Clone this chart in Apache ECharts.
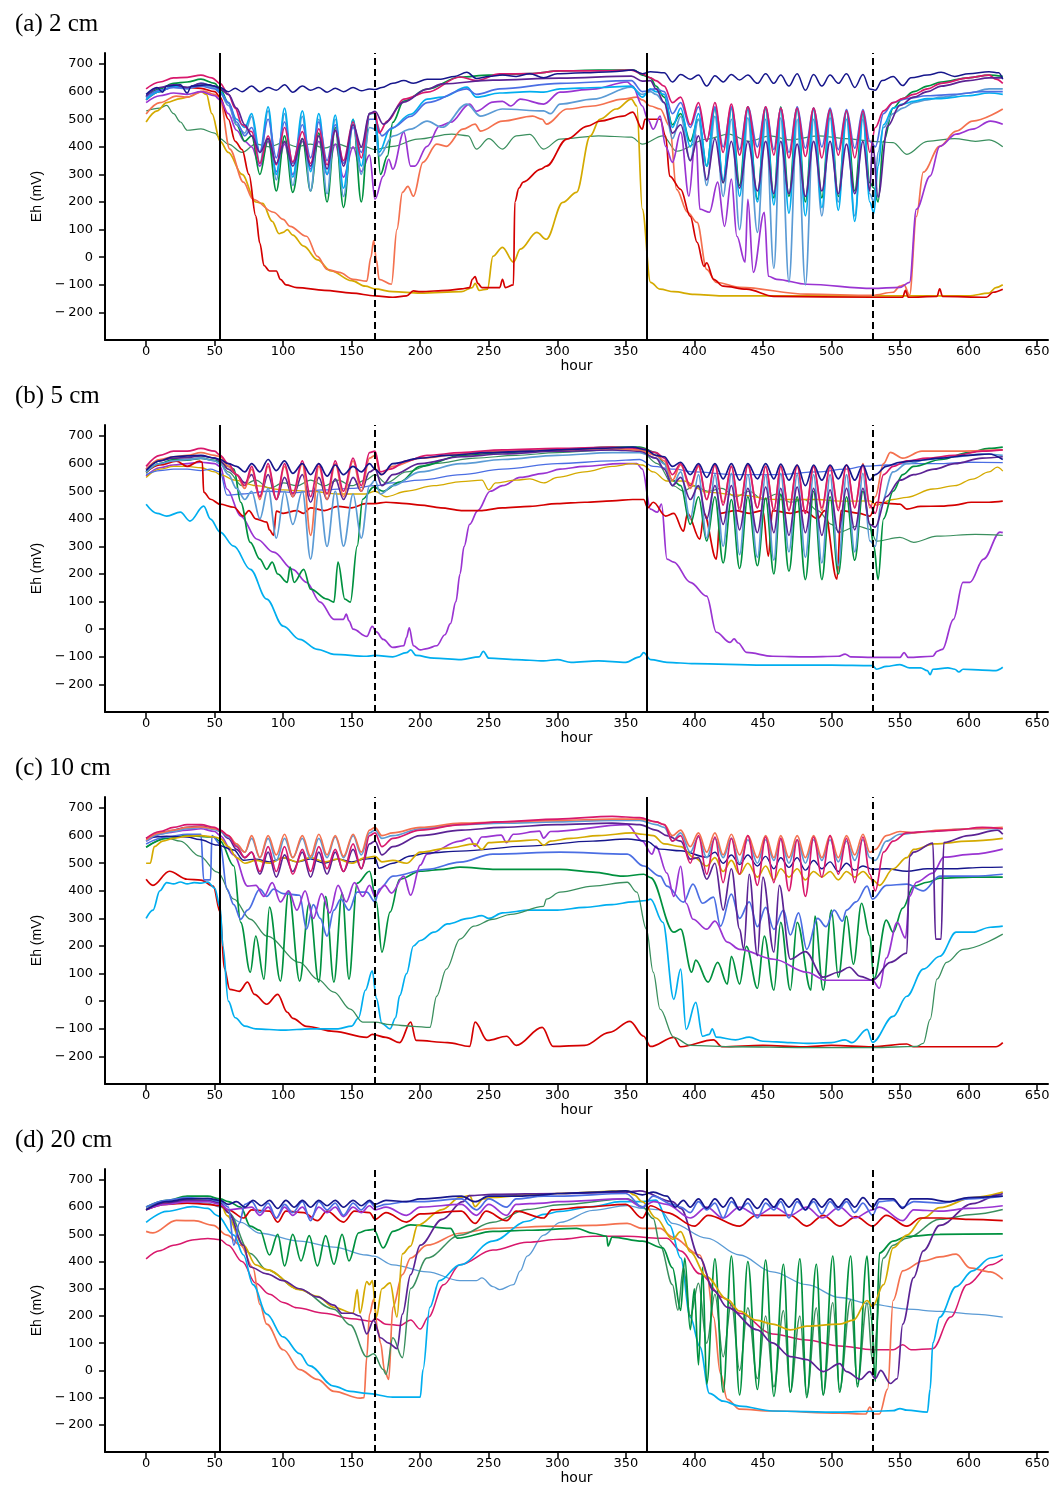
<!DOCTYPE html>
<html><head><meta charset="utf-8">
<script src="https://cdn.jsdelivr.net/npm/echarts@6/dist/echarts.min.js"></script>
<style>html,body{margin:0;padding:0;background:#fff}#c{width:1056px;height:1486px}</style>
</head><body><div id="c"></div>
<script>
// ---------- shared tidal timing (hours) ----------
const TIDE1 = [77,83,89,95,101,107,114,120,126,132,138,144,151,157,163];
const TIDE2 = [378,384,390,397,403,409,415,421,427,433,439,446,452,458,463,469,475,481,487,493,499,505,511,517,523,528];
const VLINES_SOLID = [54, 365];
const VLINES_DASH = [167, 530];
const X_TICKS = [0,50,100,150,200,250,300,350,400,450,500,550,600,650];
const Y_TICKS = [-200,-100,0,100,200,300,400,500,600,700];
const TITLES = ['(a) 2 cm','(b) 5 cm','(c) 10 cm','(d) 20 cm'];

// ---------- panel (a) 2 cm ----------
const a_navy_pre = [0,590, 8,615, 12,598, 15,620, 25,625, 30,595, 33,620, 45,625, 54,615, 60,600, 65,612, 70,600];
const a_navy_o1 = [620,600,615,605,625,598,620,605,615,598,612,600,615,603,610];
const a_navy_mid = [167,608, 172,615, 180,630, 188,640, 195,630, 205,645, 215,645, 225,655, 234,670, 241,648, 250,655, 260,660, 270,655, 280,665, 290,650, 300,665, 320,668, 340,672, 355,678, 362,665, 368,672];
const a_navy_o2 = [668,635,662,645,660,620,658,635,662,642,660,630,665,630,660,620,665,605,662,620,660,630,665,615,662,610];
const a_navy_post = [532,605, 537,640, 545,655, 552,622, 558,650, 570,660, 580,670, 590,655, 600,665, 615,672, 622,668, 625,645];

const a_mag_pre = [0,610, 10,635, 20,650, 30,652, 40,660, 48,650, 54,630, 60,590, 65,540, 70,480];
const a_mag_o1 = [455,340,440,335,470,345,455,340,465,335,460,350,490,360,520];
const a_mag_mid = [167,525, 170,450, 176,493, 188,573, 205,598, 229,653, 241,640, 258,664, 280,665, 302,675, 330,675, 354,678, 362,664, 368,650, 372,640];
const a_mag_o2 = [620,560,580,480,560,420,560,380,555,370,545,360,545,370,540,360,540,365,540,360,535,370,530,360,530,380];
const a_mag_post = [532,470, 538,530, 545,560, 552,575, 560,590, 570,610, 580,630, 600,650, 615,660, 620,645, 625,630];

const a_green_pre = [0,580, 10,610, 20,630, 30,635, 40,645, 50,630, 54,610, 60,560, 66,480, 72,420];
const a_green_o1 = [440,300,430,240,440,235,430,240,450,200,470,180,500,200,520];
const a_green_mid = [167,525, 171,300, 176,366, 180,489, 188,566, 205,609, 229,653, 250,660, 280,665, 302,675, 330,678, 356,678, 362,660, 368,650, 372,620];
const a_green_o2 = [580,480,520,420,500,330,540,270,540,260,545,210,540,215,545,220,540,200,540,215,535,220,530,240,520,270];
const a_green_post = [531,250, 534,200, 538,420, 545,540, 552,575, 560,600, 570,620, 580,635, 600,650, 615,660, 625,655];

const a_sky_pre = [0,570, 10,600, 20,620, 30,615, 40,630, 50,620, 54,600, 60,560, 66,500, 72,470];
const a_sky_o1 = [520,380,545,300,540,290,530,310,520,300,515,250,500,330,520];
const a_sky_mid = [167,522, 170,380, 178,464, 193,518, 205,573, 216,580, 234,616, 241,580, 258,595, 280,600, 290,598, 302,610, 330,615, 354,620, 362,580, 368,610, 372,600];
const a_sky_o2 = [590,470,540,400,520,330,540,280,540,220,535,200,540,190,535,160,540,150,535,180,530,170,530,130,525,200];
const a_sky_post = [531,160, 534,330, 538,480, 545,540, 552,555, 560,565, 570,575, 580,575, 600,585, 615,595, 625,590];

const a_steel_pre = [0,575, 10,605, 20,615, 30,610, 40,625, 50,615, 54,595, 60,550, 66,480, 72,450];
const a_steel_o1 = [510,340,530,280,520,260,510,240,500,230,500,220,480,300,470];
const a_steel_mid = [167,464, 170,366, 180,439, 193,464, 205,493, 216,471, 234,555, 244,511, 260,537, 290,530, 295,520, 302,555, 326,573, 354,616, 362,590, 368,600, 372,590];
const a_steel_o2 = [560,430,510,350,500,260,510,220,500,100,505,90,500,-40,505,-90,500,-100,500,150,505,200,500,150,500,230];
const a_steel_post = [531,200, 534,380, 538,470, 545,520, 552,540, 560,560, 570,570, 580,580, 600,595, 615,610, 625,610];

const a_royal_pre = [0,580, 10,605, 20,615, 30,612, 40,620, 50,610, 54,595, 60,560, 66,490, 72,440];
const a_royal_o1 = [470,380,500,360,490,340,480,360,490,350,480,340,470,380,500];
const a_royal_mid = [167,500, 172,440, 180,470, 193,510, 205,560, 234,610, 241,590, 258,610, 302,630, 354,640, 362,600, 372,610];
const a_royal_o2 = [600,520,560,470,545,420,545,400,545,390,545,400,545,390,540,380,545,395,540,400,540,390,535,395,535,420];
const a_royal_post = [532,400, 538,520, 545,560, 555,575, 570,585, 590,590, 610,600, 625,600];

const a_dpur_pre = [0,585, 10,615, 20,625, 30,615, 40,630, 50,620, 54,610, 60,590, 66,540, 72,480];
const a_dpur_o1 = [440,380,430,340,420,330,430,330,440,320,460,330,480,400,520];
const a_dpur_mid = [167,529, 173,482, 188,562, 205,609, 216,628, 253,642, 302,649, 354,656, 362,638, 368,640, 372,610];
const a_dpur_o2 = [560,450,480,350,440,280,430,270,420,250,420,240,420,230,420,230,410,220,420,240,420,230,410,230,420,240];
const a_dpur_post = [530,420, 534,217, 541,475, 550,550, 560,580, 570,600, 580,620, 600,640, 615,650, 625,650];

const a_pur_pre = [0,560, 10,585, 20,595, 30,590, 40,600, 50,585, 54,570, 60,520, 66,460, 72,420];
const a_pur_o1 = [400,330,420,310,410,300,420,320,420,300,410,290,400,310,370];
const a_pur_rest = [167,210, 173,294, 177,355, 180,319, 188,453, 193,330, 196,330, 205,402, 214,475, 222,489, 236,555, 241,529, 253,562, 260,565, 266,548, 273,573, 290,555, 302,598, 326,609, 351,635, 355,620, 362,548, 366,500, 370,464, 375,511, 379,402, 384,344, 390,453, 396,221, 401,446, 404,174, 411,163, 417,272, 422,112, 427,283, 431,76, 437,-18, 439,210, 443,-55, 451,163, 454,-69, 460,-80, 482,-98, 530,-113, 550,-109, 557,-91, 562,174, 572,294, 579,402, 591,446, 603,464, 616,493, 625,482];

const a_red = [0,570, 10,600, 20,620, 30,615, 40,612, 50,600, 54,580, 60,500, 65,420, 70,390, 75,300, 80,150, 83,50, 86,-30, 90,-50, 95,-50, 98,-80, 102,-100, 110,-110, 130,-120, 150,-130, 167,-140, 180,-145, 190,-140, 195,-122, 200,-125, 220,-120, 230,-115, 236,-110, 238,-80, 240,-70, 242,-95, 245,-110, 250,-110, 258,-110, 260,-80, 262,-110, 268,-100, 269,200, 272,250, 275,272, 288,319, 292,330, 307,428, 322,475, 331,493, 348,511, 355,526, 362,464, 364,500, 375,500, 379,439, 382,294, 390,246, 397,148, 402,54, 407,-33, 409,-20, 414,-80, 421,-105, 438,-116, 458,-142, 530,-145, 552,-145, 554,-120, 556,-145, 577,-142, 579,-115, 581,-142, 613,-145, 618,-127, 625,-116];

const a_salmon = [0,519, 10,560, 22,584, 30,580, 42,602, 50,590, 54,570, 61,392, 71,272, 78,210, 93,163, 100,137, 105,112, 117,76, 125,3, 132,-44, 141,-55, 151,-80, 161,-87, 164,0, 166,60, 168,-10, 170,-80, 179,-98, 183,101, 187,235, 191,257, 195,221, 202,344, 212,410, 219,402, 231,464, 240,482, 244,457, 260,493, 282,511, 289,500, 292,482, 307,537, 326,548, 348,573, 358,580, 362,570, 368,548, 375,537, 382,475, 387,246, 395,163, 402,126, 409,-44, 416,-91, 433,-109, 482,-134, 530,-138, 545,-127, 550,-105, 553,-100, 557,-138, 562,148, 567,308, 579,402, 591,457, 603,493, 625,537];

const a_gold = [0,490, 8,530, 15,560, 25,575, 30,580, 40,600, 44,590, 48,520, 54,420, 60,380, 70,300, 80,200, 85,195, 92,130, 97,85, 100,90, 103,100, 107,80, 115,40, 125,-10, 135,-50, 150,-85, 160,-105, 167,-115, 180,-125, 200,-130, 230,-125, 238,-110, 240,-95, 243,-120, 249,-116, 253,3, 260,36, 268,-18, 273,29, 285,90, 292,65, 304,199, 314,235, 324,439, 331,500, 343,537, 354,573, 358,548, 362,174, 368,-91, 375,-116, 385,-125, 400,-135, 420,-140, 450,-140, 500,-140, 530,-140, 560,-140, 600,-140, 615,-130, 620,-110, 625,-100];

const a_sea = [0,530, 10,540, 15,550, 20,520, 25,490, 30,460, 40,465, 50,450, 54,430, 60,410, 70,380, 80,410, 90,400, 100,415, 110,400, 120,410, 130,395, 140,410, 150,395, 160,400, 167,390, 180,402, 198,428, 223,446, 235,440, 241,392, 250,430, 260,392, 270,440, 280,445, 290,392, 302,428, 330,440, 354,435, 362,410, 377,440, 387,384, 409,428, 425,446, 440,420, 455,440, 470,425, 490,440, 510,430, 530,420, 545,415, 555,373, 570,420, 590,430, 605,420, 615,425, 625,400];

// ---------- panel (b) 5 cm ----------
const b_navy_pre = [0,575, 10,610, 20,625, 30,628, 40,630, 50,620, 54,615, 60,600, 66,590, 72,570];
const b_navy_o1 = [600,570,615,575,610,565,600,560,600,555,595,560,590,570,600];
const b_navy_mid = [167,580, 172,560, 180,600, 200,620, 220,630, 250,640, 280,645, 300,650, 330,655, 355,660, 365,650, 372,630];
const b_navy_o2 = [625,590,605,560,600,550,600,545,600,540,600,545,600,545,598,540,595,520,595,540,595,545,595,540,595,540];
const b_navy_post = [532,560, 540,590, 550,605, 560,610, 580,620, 600,630, 615,635, 625,615];

const b_mag_pre = [0,590, 10,630, 20,645, 30,645, 40,655, 50,645, 54,630, 60,600, 66,560, 72,520];
const b_mag_o1 = [590,480,600,470,600,490,610,480,600,490,610,500,620,520,640];
const b_mag_mid = [167,645, 171,570, 178,580, 190,610, 205,630, 230,640, 260,650, 300,655, 340,660, 360,655, 372,640];
const b_mag_o2 = [620,560,600,520,595,470,595,450,590,430,595,440,590,430,590,430,595,420,590,440,590,430,595,440,595,450];
const b_mag_post = [532,420, 538,560, 545,590, 555,610, 570,620, 590,630, 610,645, 625,650];

const b_salmon_pre = [0,580, 10,615, 20,625, 30,630, 40,640, 50,630, 54,625, 60,590, 66,560, 72,510];
const b_salmon_o1 = [580,470,590,470,590,480,600,340,590,470,600,480,610,500,620];
const b_salmon_mid = [167,630, 171,560, 180,590, 200,620, 230,635, 260,645, 300,650, 340,655, 360,650, 372,630];
const b_salmon_o2 = [610,540,595,510,590,470,595,460,590,440,595,440,590,430,590,430,590,420,590,430,590,440,595,440,600,440];
const b_salmon_post = [532,480, 538,600, 543,641, 552,620, 566,645, 590,645, 625,650];

const b_green_pre = [0,570, 10,600, 20,615, 30,615, 40,620, 50,612, 54,605, 60,590, 64,580, 69,460, 76,315, 83,254, 88,217, 92,243, 96,200, 103,170, 105,225, 108,170, 115,217, 120,145, 132,109, 137,98, 140,243, 145,109, 149,98, 154,301, 158,471, 166,515, 173,500, 185,533, 200,590, 230,630, 260,640, 300,650, 340,660, 360,660, 372,640];
const b_green_o2 = [600,540,520,380,480,320,480,240,470,220,480,230,475,200,490,210,480,180,500,180,480,200,480,250,500,380];
const b_green_post = [531,300, 534,180, 538,400, 545,500, 552,560, 560,590, 580,615, 600,640, 615,655, 625,660];

const b_sea = [0,565, 10,600, 20,610, 30,612, 40,618, 50,610, 54,600, 60,570, 70,520, 80,540, 90,510, 100,530, 110,520, 120,540, 130,520, 140,540, 150,520, 160,540, 167,560, 175,530, 190,570, 210,600, 240,620, 270,630, 300,640, 340,650, 360,650, 373,600, 385,519, 392,500, 400,520, 410,500, 420,510, 430,480, 440,500, 450,470, 460,490, 470,460, 480,470, 490,430, 500,380, 506,352, 519,374, 528,362, 533,319, 550,333, 560,315, 577,337, 605,344, 625,340];

const b_sky = [0,453, 8,420, 15,410, 25,424, 32,392, 42,446, 47,399, 54,352, 64,301, 76,217, 88,109, 100,11, 112,-37, 125,-73, 137,-91, 161,-98, 167,-95, 180,-100, 190,-85, 193,-75, 197,-95, 210,-105, 230,-110, 243,-100, 246,-80, 250,-105, 270,-110, 290,-115, 300,-110, 310,-120, 330,-115, 350,-120, 360,-100, 363,-85, 368,-110, 380,-120, 400,-125, 450,-130, 500,-130, 530,-132, 533,-145, 540,-135, 550,-128, 557,-140, 565,-140, 570,-150, 572,-165, 574,-145, 585,-140, 590,-145, 593,-155, 596,-145, 610,-148, 620,-150, 625,-138];

const b_pur = [0,555, 10,585, 20,595, 30,600, 40,605, 50,600, 54,590, 59,508, 69,410, 81,326, 93,279, 107,217, 117,170, 127,98, 137,36, 144,36, 146,55, 148,30, 151,0, 161,-26, 165,10, 168,-10, 173,-37, 180,-66, 188,-60, 190,-30, 192,5, 195,-60, 200,-75, 205,-70, 212,-60, 218,-20, 222,20, 226,100, 229,200, 232,300, 236,380, 242,430, 251,500, 260,520, 273,550, 290,565, 302,580, 320,590, 346,600, 358,600, 362,580, 368,435, 373,424, 376,453, 380,254, 385,243, 397,170, 409,120, 416,-11, 426,-48, 429,-35, 432,-50, 438,-84, 457,-98, 482,-100, 505,-98, 510,-90, 514,-100, 530,-102, 550,-102, 553,-85, 556,-102, 574,-98, 577,-80, 581,-73, 589,36, 596,170, 601,170, 611,254, 623,352, 625,350];

const b_red = [0,569, 10,595, 22,609, 30,590, 39,609, 41,605, 42,497, 47,471, 54,453, 64,442, 71,410, 75,430, 80,400, 88,388, 90,360, 93,340, 95,428, 100,420, 110,430, 115,420, 120,440, 130,430, 140,445, 150,440, 160,455, 167,455, 175,460, 190,455, 200,450, 215,440, 230,430, 245,430, 260,440, 280,445, 300,455, 320,460, 340,465, 355,470, 363,470, 366,440, 370,460, 379,410, 385,420, 392,355, 395,420, 404,326, 407,420, 416,254, 419,420, 430,430, 440,420, 450,430, 454,265, 457,430, 470,420, 480,430, 490,400, 495,430, 504,181, 507,430, 520,420, 528,410, 533,460, 543,455, 550,453, 555,435, 565,445, 580,446, 590,450, 602,460, 615,460, 625,464];

const b_gold = [0,550, 10,580, 20,590, 30,590, 40,585, 50,570, 54,560, 65,540, 80,520, 100,505, 120,500, 140,490, 160,490, 167,500, 175,480, 190,500, 210,520, 230,535, 245,540, 250,505, 255,530, 270,540, 280,545, 290,530, 300,550, 320,570, 340,590, 355,600, 362,595, 370,570, 380,537, 392,537, 409,497, 433,486, 460,470, 490,470, 506,464, 528,465, 533,450, 545,470, 555,478, 574,508, 590,520, 603,544, 615,570, 621,587, 625,573];

const b_royal = [0,560, 10,575, 20,580, 30,580, 40,575, 47,580, 54,570, 59,486, 70,490, 90,500, 110,495, 130,505, 150,510, 167,520, 180,530, 200,540, 230,560, 260,580, 300,600, 340,610, 360,615, 370,590, 385,580, 400,570, 430,560, 460,560, 490,570, 510,580, 525,591, 540,595, 555,600, 580,600, 600,605, 625,604];

const b_steel_pre = [0,570, 10,600, 20,610, 30,615, 40,620, 50,610, 54,600, 60,560, 66,510, 72,470];
const b_steel_o1 = [500,400,510,330,500,380,500,254,500,300,500,301,490,330,520];
const b_steel_mid = [167,540, 171,490, 180,520, 200,570, 230,600, 260,615, 300,630, 340,640, 360,640, 372,620];
const b_steel_o2 = [600,520,570,400,560,330,560,300,565,270,560,260,560,250,565,280,560,260,560,240,560,230,560,280,565,320];
const b_steel_post = [532,300, 536,450, 545,570, 555,600, 570,615, 590,625, 610,635, 625,630];

const b_dpur_pre = [0,580, 10,610, 20,620, 30,622, 40,628, 50,620, 54,610, 60,580, 66,560, 72,530];
const b_dpur_o1 = [560,480,560,470,550,480,560,460,550,470,545,470,550,500,570];
const b_dpur_mid = [167,580, 172,520, 180,560, 200,600, 230,625, 260,635, 300,645, 340,650, 360,645, 372,620];
const b_dpur_o2 = [580,520,550,470,520,400,520,380,520,360,510,350,515,350,510,340,515,350,510,340,505,350,510,360,510,380];
const b_dpur_post = [532,370, 540,480, 550,540, 560,560, 575,580, 590,600, 610,620, 625,625];

// ---------- panel (c) 10 cm ----------
const c_navy = [0,592, 15,598, 30,595, 39,586, 52,566, 64,548, 71,511, 80,515, 90,505, 100,520, 110,505, 120,515, 130,500, 140,515, 150,505, 160,515, 167,518, 170,482, 180,500, 193,526, 205,537, 229,544, 278,562, 326,580, 351,588, 365,580, 375,551, 390,545, 409,522, 415,540, 421,500, 427,530, 433,495, 439,530, 446,490, 452,525, 458,480, 463,520, 469,485, 475,520, 481,475, 487,510, 493,480, 499,505, 505,470, 511,500, 517,475, 523,490, 530,478, 540,480, 555,471, 570,480, 590,480, 610,485, 625,486];

const c_mag_pre = [0,590, 10,615, 20,630, 30,640, 40,640, 50,630, 54,620, 60,600, 66,560, 72,520];
const c_mag_o1 = [540,470,560,470,560,460,550,470,560,480,550,470,570,480,600];
const c_mag_mid = [167,610, 172,560, 180,590, 200,620, 230,640, 260,650, 300,660, 340,670, 360,665, 372,650];
const c_mag_o2 = [640,580,600,500,600,460,595,430,590,460,600,420,595,430,590,400,585,380,595,450,600,460,590,430,595,460];
const c_mag_post = [532,400, 538,540, 545,580, 555,610, 570,615, 590,620, 610,630, 625,625];

const c_salmon_pre = [0,585, 10,610, 20,620, 30,630, 40,632, 50,625, 54,620, 60,600, 66,570, 72,540];
const c_salmon_o1 = [600,520,600,530,605,520,600,525,605,530,600,525,605,540,620];
const c_salmon_mid = [167,630, 172,600, 180,610, 200,630, 230,645, 260,650, 300,655, 340,660, 360,660, 372,650];
const c_salmon_o2 = [640,600,620,560,610,540,610,530,605,530,600,520,600,520,600,520,600,520,600,520,600,520,600,530,605,540];
const c_salmon_post = [532,550, 540,600, 550,615, 560,610, 580,620, 600,625, 625,630];

const c_steel_pre = [0,580, 10,605, 20,615, 30,625, 40,630, 50,622, 54,615, 60,595, 66,565, 72,540];
const c_steel_o1 = [590,520,590,510,590,520,590,515,590,520,595,520,600,530,610];
const c_steel_mid = [167,620, 172,590, 180,600, 200,625, 230,640, 260,645, 300,650, 340,655, 360,655, 372,640];
const c_steel_o2 = [630,580,610,540,595,520,590,520,590,500,585,500,585,510,585,500,585,500,585,510,585,505,580,510,585,520];
const c_steel_post = [532,510, 540,580, 550,605, 570,615, 600,625, 625,625];

const c_gold = [0,500, 3,500, 6,560, 12,580, 20,590, 30,598, 40,600, 50,595, 54,590, 60,560, 66,520, 72,500, 80,510, 90,500, 100,520, 110,505, 120,520, 130,505, 140,515, 150,500, 160,520, 167,525, 172,505, 180,510, 190,500, 200,540, 220,555, 240,570, 245,550, 250,575, 270,580, 285,585, 290,565, 295,580, 310,590, 330,600, 355,610, 362,605, 370,600, 378,570, 390,560, 400,520, 409,490, 415,520, 421,470, 427,510, 433,460, 439,500, 446,450, 452,490, 458,440, 463,480, 469,450, 475,480, 481,440, 487,470, 493,450, 499,470, 505,440, 511,470, 517,450, 523,470, 530,440, 535,420, 545,480, 555,520, 560,550, 575,570, 600,580, 625,590];

const c_royal = [0,570, 15,595, 30,605, 40,605, 42,440, 47,440, 48,600, 54,570, 59,406, 64,350, 69,297, 74,330, 83,406, 88,380, 93,406, 100,390, 112,384, 117,261, 122,350, 127,300, 132,236, 137,330, 142,370, 148,330, 154,395, 161,395, 167,360, 170,406, 180,453, 205,478, 229,504, 253,533, 302,540, 351,533, 363,490, 375,453, 380,417, 392,359, 399,424, 406,355, 414,377, 419,272, 427,388, 433,300, 440,360, 446,270, 452,340, 458,260, 465,330, 470,240, 476,320, 482,188, 490,300, 496,270, 502,330, 508,290, 511,330, 518,360, 526,417, 530,370, 540,420, 555,424, 567,400, 579,453, 603,453, 625,460];

const c_green = [0,558, 15,590, 30,600, 49,595, 54,580, 64,490, 69,286, 76,105, 80,236, 86,80, 90,341, 98,73, 104,399, 112,73, 119,355, 126,69, 131,380, 137,69, 143,392, 148,80, 154,428, 163,471, 168,359, 172,178, 178,323, 185,442, 200,471, 217,478, 229,486, 253,478, 302,478, 326,468, 348,453, 363,460, 368,448, 385,250, 390,261, 398,105, 401,149, 410,69, 417,141, 424,62, 427,163, 433,62, 438,199, 446,47, 451,236, 458,40, 463,286, 470,40, 475,286, 485,40, 488,308, 494,40, 500,330, 505,87, 511,308, 516,134, 522,355, 528,236, 531,80, 540,294, 545,250, 552,337, 560,417, 570,431, 579,446, 603,450, 625,450];

const c_sea = [0,558, 15,591, 25,580, 39,526, 52,468, 64,370, 76,297, 88,236, 112,141, 125,80, 137,33, 149,-29, 158,-76, 167,-76, 178,-85, 195,-91, 207,-95, 212,18, 219,116, 229,225, 239,272, 253,297, 266,315, 290,344, 292,370, 302,395, 326,417, 351,431, 358,395, 365,261, 370,105, 375,-29, 385,-131, 397,-160, 430,-165, 480,-168, 530,-168, 562,-164, 567,-153, 572,-66, 577,80, 584,141, 596,188, 625,243];

const c_sky = [0,300, 5,330, 10,400, 15,430, 20,425, 25,432, 30,425, 35,430, 40,428, 45,432, 50,410, 54,340, 56,200, 60,0, 65,-60, 72,-90, 80,-100, 100,-105, 120,-100, 140,-100, 150,-90, 155,-60, 160,40, 165,110, 168,10, 172,-80, 178,-100, 182,-60, 185,20, 190,100, 195,200, 200,220, 210,250, 220,280, 235,300, 245,310, 250,300, 260,320, 280,330, 300,330, 320,340, 340,350, 355,360, 365,365, 368,370, 377,286, 385,7, 390,116, 394,-102, 401,-4, 406,-127, 411,-120, 413,-100, 416,-130, 430,-140, 440,-130, 450,-145, 470,-150, 482,-153, 500,-150, 510,-140, 515,-150, 526,-102, 530,-149, 545,-55, 555,18, 567,116, 579,163, 591,250, 603,250, 616,268, 625,272];

const c_red = [0,442, 5,420, 17,471, 30,442, 40,439, 49,417, 54,323, 57,120, 61,43, 68,36, 74,69, 79,25, 88,-11, 96,25, 103,-40, 107,-62, 117,-91, 137,-109, 161,-131, 165,-120, 175,-131, 185,-150, 193,-76, 197,-142, 220,-150, 236,-164, 240,-76, 249,-142, 263,-127, 270,-160, 289,-95, 297,-164, 320,-160, 338,-113, 353,-73, 363,-127, 368,-164, 385,-131, 390,-165, 414,-140, 420,-165, 450,-160, 480,-165, 500,-160, 530,-165, 555,-155, 560,-165, 600,-165, 620,-165, 625,-150];

const c_pur = [0,580, 15,610, 30,620, 40,625, 50,615, 54,600, 64,530, 74,417, 80,420, 86,380, 92,430, 98,360, 104,400, 110,330, 116,400, 122,300, 128,390, 134,320, 140,420, 146,360, 152,430, 158,380, 163,420, 167,380, 174,420, 179,392, 188,453, 193,384, 200,493, 205,533, 229,580, 236,591, 240,562, 245,595, 259,602, 263,575, 268,605, 287,616, 290,591, 295,615, 351,640, 362,580, 369,533, 372,562, 380,464, 385,380, 390,489, 394,355, 399,297, 409,261, 415,290, 424,214, 433,188, 458,152, 482,105, 496,76, 530,76, 535,47, 540,156, 548,286, 554,229, 557,380, 562,431, 574,464, 582,522, 603,533, 625,551];

const c_dpur_pre = [0,590, 15,615, 30,630, 40,635, 50,625, 54,615, 60,590, 66,550, 72,520];
const c_dpur_o1 = [540,460,540,450,530,470,540,450,540,460,540,470,550,480,570];
const c_dpur_rest = [167,580, 172,530, 180,560, 200,600, 230,620, 260,630, 300,640, 340,645, 360,640, 372,620, 380,600, 390,580, 397,515, 403,520, 409,442, 415,500, 421,330, 427,480, 433,261, 436,188, 440,460, 446,165, 450,450, 458,178, 462,420, 470,152, 481,180, 494,87, 505,105, 513,123, 521,90, 530,76, 543,141, 555,174, 557,525, 560,540, 574,573, 576,225, 580,225, 582,575, 600,600, 621,620, 625,605];

// ---------- panel (d) 20 cm ----------
const d_navy = [0,590, 15,620, 30,630, 45,632, 54,625, 60,610, 66,620, 72,600, 78,625, 84,605, 90,625, 96,595, 102,625, 108,600, 114,625, 120,600, 126,625, 132,605, 138,625, 144,600, 151,625, 157,605, 163,625, 167,610, 175,625, 190,620, 200,630, 230,640, 240,620, 250,640, 270,640, 290,645, 300,650, 330,655, 350,660, 362,645, 370,655, 380,640, 386,600, 392,625, 397,600, 403,630, 409,595, 415,630, 421,600, 427,635, 433,590, 439,630, 446,595, 452,630, 458,600, 463,630, 469,600, 475,630, 481,590, 487,630, 493,600, 499,630, 505,600, 511,630, 517,600, 523,635, 530,600, 535,630, 545,630, 552,595, 558,630, 570,630, 585,620, 600,635, 625,640];

const d_royal = [0,600, 15,625, 30,635, 45,630, 54,620, 60,600, 64,460, 68,540, 72,610, 77,620, 83,580, 89,615, 95,560, 101,610, 107,580, 114,620, 120,550, 126,620, 132,590, 138,615, 144,570, 151,615, 157,590, 163,620, 167,600, 175,610, 190,620, 200,620, 230,630, 241,590, 250,630, 263,600, 270,630, 290,640, 300,640, 350,650, 362,600, 370,640, 384,610, 390,600, 397,580, 403,620, 409,590, 415,615, 421,560, 427,620, 433,590, 439,615, 446,560, 452,615, 458,590, 463,620, 469,560, 475,620, 481,590, 487,620, 493,575, 499,620, 505,590, 511,620, 517,580, 523,615, 530,570, 535,620, 545,625, 552,600, 560,620, 580,615, 600,630, 625,640];

const d_pur = [0,590, 15,610, 30,620, 45,620, 54,610, 60,590, 70,595, 77,600, 83,570, 89,600, 95,560, 101,600, 107,570, 114,600, 120,560, 126,600, 132,580, 138,600, 144,565, 151,600, 157,580, 163,605, 167,590, 175,600, 190,570, 200,600, 230,610, 241,570, 250,610, 263,570, 270,610, 290,615, 300,620, 350,630, 362,600, 370,620, 380,610, 397,560, 409,600, 421,560, 433,600, 446,570, 458,600, 470,570, 482,600, 493,560, 506,600, 517,560, 530,590, 535,600, 552,550, 560,590, 580,585, 600,595, 625,605];

const d_red = [0,590, 15,610, 30,615, 45,610, 54,605, 60,590, 71,560, 77,590, 90,585, 96,545, 102,585, 115,580, 125,550, 132,585, 144,545, 152,585, 163,580, 167,555, 175,580, 190,545, 200,575, 230,585, 240,540, 248,585, 263,550, 270,585, 290,560, 296,590, 320,600, 350,610, 362,560, 368,605, 380,580, 400,530, 410,570, 433,530, 445,570, 470,570, 482,530, 494,570, 506,530, 518,565, 530,530, 540,570, 555,530, 565,560, 580,560, 600,555, 625,550];

const d_gold = [0,590, 15,620, 30,630, 45,630, 54,620, 59,569, 71,460, 80,388, 88,370, 112,297, 125,272, 137,232, 151,210, 154,297, 156,210, 161,326, 163,315, 165,330, 168,196, 172,300, 178,322, 183,196, 187,428, 193,457, 198,533, 216,591, 229,636, 236,642, 240,602, 246,630, 253,636, 280,645, 300,650, 351,660, 356,645, 362,620, 372,560, 384,482, 390,510, 397,435, 409,344, 424,261, 433,218, 445,185, 457,170, 470,149, 482,163, 506,170, 516,185, 526,257, 530,235, 538,315, 545,450, 555,497, 567,560, 579,598, 603,635, 625,655];

const d_dpur = [0,590, 15,615, 30,625, 45,625, 54,615, 60,580, 71,460, 76,380, 88,355, 100,330, 112,300, 125,270, 137,240, 143,210, 150,210, 156,200, 161,134, 166,185, 171,120, 177,100, 183,80, 187,207, 193,352, 200,460, 216,555, 231,620, 236,642, 253,647, 300,650, 351,655, 360,660, 384,620, 390,595, 404,413, 414,294, 424,232, 446,149, 457,101, 470,51, 482,40, 494,-4, 506,25, 511,-4, 521,-33, 528,-4, 532,-30, 536,0, 543,-48, 548,-30, 552,170, 560,341, 567,439, 579,533, 603,613, 622,645, 625,650];

const d_sky = [0,544, 15,584, 34,602, 45,595, 52,569, 64,497, 71,424, 78,315, 88,207, 100,123, 112,62, 119,18, 137,-58, 149,-77, 161,-84, 180,-98, 200,-98, 202,3, 207,232, 214,330, 229,388, 253,475, 278,548, 290,573, 302,584, 326,602, 346,620, 362,620, 372,626, 382,533, 390,413, 397,196, 404,87, 411,-84, 421,-113, 433,-131, 457,-149, 506,-153, 530,-150, 545,-148, 550,-140, 555,-146, 570,-153, 572,-69, 574,101, 579,196, 591,308, 603,366, 616,413, 625,424];

const d_salmon = [0,511, 5,505, 22,551, 35,550, 49,533, 59,497, 69,460, 78,377, 83,243, 88,170, 100,76, 112,3, 125,-33, 137,-77, 156,-102, 159,-100, 161,50, 163,207, 166,261, 169,150, 171,101, 174,0, 177,-33, 180,232, 187,352, 193,413, 205,460, 229,504, 253,522, 300,530, 326,533, 351,540, 362,522, 375,522, 384,490, 404,424, 409,355, 414,196, 419,-11, 424,-106, 433,-142, 457,-149, 506,-157, 525,-160, 528,-135, 531,-160, 535,-160, 541,-69, 545,257, 552,366, 567,402, 579,417, 591,427, 601,377, 616,362, 625,335];

const d_mag = [0,410, 10,440, 20,460, 35,480, 45,485, 54,480, 60,460, 70,400, 80,320, 90,280, 100,250, 110,230, 130,210, 150,190, 165,180, 167,192, 175,170, 185,165, 193,185, 200,152, 206,196, 217,315, 229,388, 253,442, 278,471, 302,482, 326,493, 351,493, 375,486, 380,486, 390,439, 404,355, 421,268, 433,210, 457,134, 482,112, 506,90, 530,76, 545,76, 552,94, 558,76, 574,80, 587,196, 599,315, 616,388, 625,410];

const d_steel = [0,600, 15,615, 30,620, 45,615, 54,600, 69,544, 83,504, 112,475, 137,453, 161,424, 166,420, 180,388, 205,362, 229,330, 241,330, 245,340, 253,308, 258,297, 268,315, 273,366, 278,420, 290,497, 302,544, 326,588, 351,606, 362,595, 375,590, 384,540, 409,486, 433,424, 457,362, 482,315, 506,268, 530,243, 555,225, 579,217, 603,207, 625,196];

const d_green = [0,600, 15,625, 30,640, 45,640, 54,630, 60,620, 69,600, 76,530, 83,515, 90,424, 96,500, 101,384, 107,500, 113,402, 119,495, 125,384, 131,495, 137,390, 143,500, 148,402, 155,505, 161,515, 166,518, 173,450, 180,511, 193,535, 222,522, 227,486, 253,511, 278,515, 314,522, 326,504, 336,493, 337,457, 340,490, 362,475, 377,450, 384,377, 390,221, 393,413, 397,150, 400,300, 403,20, 406,380, 409,-50, 415,410, 421,-80, 427,420, 433,-90, 439,400, 446,-70, 452,405, 458,-95, 465,390, 470,-80, 477,410, 482,-100, 489,390, 494,-90, 501,420, 506,-80, 514,420, 519,-60, 526,420, 529,200, 532,-40, 535,431, 545,475, 555,493, 579,500, 625,502];

const d_sea = [0,590, 15,615, 30,625, 45,625, 54,615, 60,580, 76,430, 88,370, 112,297, 137,225, 149,167, 161,50, 166,61, 173,3, 175,-15, 180,120, 187,47, 193,301, 205,413, 229,497, 253,544, 278,591, 302,609, 351,631, 362,602, 370,558, 375,460, 384,315, 388,221, 392,377, 397,200, 403,320, 409,100, 415,280, 421,50, 427,250, 433,0, 439,230, 446,-30, 452,200, 458,-60, 465,220, 470,-80, 477,200, 482,-90, 489,230, 494,-90, 501,250, 506,-70, 514,260, 519,-50, 526,250, 530,30, 538,413, 545,460, 555,486, 579,555, 603,573, 625,591];

// ---------- helpers ----------
function pairs(flat){const o=[];for(let i=0;i<flat.length;i+=2)o.push([flat[i],flat[i+1]]);return o;}
function zip(t,v){return t.map((x,i)=>[x,v[i]]);}
function build(pre,o1,mid,o2,post){
  let d=pairs(pre||[]);
  if(o1) d=d.concat(zip(TIDE1,o1));
  if(mid) d=d.concat(pairs(mid));
  if(o2) d=d.concat(zip(TIDE2,o2));
  if(post) d=d.concat(pairs(post));
  d.sort((p,q)=>p[0]-q[0]);
  return d;
}
function toPts(d){ return (d.length && typeof d[0]==='number') ? pairs(d) : d; }
const COL = {navy:'#16168c', magenta:'#d8186c', green:'#00913f', sea:'#3a8f5e', sky:'#00aeef', steel:'#5b9bd5',
  royal:'#4b6ee3', purple:'#9a34d2', dpurple:'#5b2394', red:'#d40000', salmon:'#f4714f', gold:'#d4aa00'};

const PANELS = [
 [ ['sea',a_sea,1.2], ['gold',a_gold], ['salmon',a_salmon], ['red',a_red],
   ['purple',build(a_pur_pre,a_pur_o1,a_pur_rest)],
   ['green',build(a_green_pre,a_green_o1,a_green_mid,a_green_o2,a_green_post)],
   ['steel',build(a_steel_pre,a_steel_o1,a_steel_mid,a_steel_o2,a_steel_post)],
   ['sky',build(a_sky_pre,a_sky_o1,a_sky_mid,a_sky_o2,a_sky_post)],
   ['royal',build(a_royal_pre,a_royal_o1,a_royal_mid,a_royal_o2,a_royal_post)],
   ['magenta',build(a_mag_pre,a_mag_o1,a_mag_mid,a_mag_o2,a_mag_post)],
   ['dpurple',build(a_dpur_pre,a_dpur_o1,a_dpur_mid,a_dpur_o2,a_dpur_post)],
   ['navy',build(a_navy_pre,a_navy_o1,a_navy_mid,a_navy_o2,a_navy_post),1.5] ],
 [ ['sky',b_sky], ['purple',b_pur], ['sea',b_sea,1.2], ['gold',b_gold,1.3], ['royal',b_royal,1.3], ['red',b_red],
   ['green',build(b_green_pre,null,null,b_green_o2,b_green_post)],
   ['steel',build(b_steel_pre,b_steel_o1,b_steel_mid,b_steel_o2,b_steel_post)],
   ['dpurple',build(b_dpur_pre,b_dpur_o1,b_dpur_mid,b_dpur_o2,b_dpur_post)],
   ['salmon',build(b_salmon_pre,b_salmon_o1,b_salmon_mid,b_salmon_o2,b_salmon_post)],
   ['magenta',build(b_mag_pre,b_mag_o1,b_mag_mid,b_mag_o2,b_mag_post)],
   ['navy',build(b_navy_pre,b_navy_o1,b_navy_mid,b_navy_o2,b_navy_post)] ],
 [ ['red',c_red], ['sky',c_sky], ['sea',c_sea,1.3], ['green',c_green], ['royal',c_royal], ['purple',c_pur],
   ['navy',c_navy,1.4], ['gold',c_gold],
   ['dpurple',build(c_dpur_pre,c_dpur_o1,c_dpur_rest)],
   ['steel',build(c_steel_pre,c_steel_o1,c_steel_mid,c_steel_o2,c_steel_post)],
   ['salmon',build(c_salmon_pre,c_salmon_o1,c_salmon_mid,c_salmon_o2,c_salmon_post)],
   ['magenta',build(c_mag_pre,c_mag_o1,c_mag_mid,c_mag_o2,c_mag_post)] ],
 [ ['steel',d_steel,1.3], ['magenta',d_mag,1.5], ['salmon',d_salmon], ['sky',d_sky], ['sea',d_sea,1.5], ['green',d_green],
   ['gold',d_gold], ['dpurple',d_dpur], ['red',d_red], ['purple',d_pur], ['royal',d_royal], ['navy',d_navy] ]
];

// ---------- chart ----------
const chart = echarts.init(document.getElementById('c'), null, {renderer:'canvas'});
const TOP0 = 53, STEP = 372, H = 287;
const grids=[], xAxes=[], yAxes=[], series=[], titles=[];
const fontTick = 'DejaVu Sans, Liberation Sans, sans-serif';
const fontSans = 'Liberation Sans, Arial, sans-serif';
PANELS.forEach((list, i) => {
  grids.push({left:105, width:943, top:TOP0+STEP*i, height:H, containLabel:false});
  titles.push({text:TITLES[i], left:10, top:7+STEP*i,
    textStyle:{fontFamily:'Liberation Serif, Times New Roman, serif', fontSize:25, fontWeight:'normal', color:'#000'}});
  xAxes.push({type:'value', gridIndex:i, min:-30, max:658,
    axisLine:{show:true, onZero:false, lineStyle:{color:'#000', width:2}},
    axisTick:{show:true, customValues:X_TICKS, length:6, lineStyle:{color:'#000', width:1.5}},
    axisLabel:{customValues:X_TICKS, color:'#000', fontSize:13, fontFamily:fontTick, margin:5},
    splitLine:{show:false},
    name:'hour', nameLocation:'middle', nameGap:13,
    nameTextStyle:{color:'#000', fontSize:14, fontFamily:fontTick}});
  yAxes.push({type:'value', gridIndex:i, min:-300, max:740,
    axisLine:{show:true, onZero:false, lineStyle:{color:'#000', width:2}},
    axisTick:{show:true, customValues:Y_TICKS, length:6, lineStyle:{color:'#000', width:1.5}},
    axisLabel:{customValues:Y_TICKS, color:'#000', fontSize:13, fontFamily:fontTick, margin:12,
      formatter:v=> v<0 ? '\u2212\u2009'+Math.abs(v) : String(v)},
    splitLine:{show:false},
    name:'Eh (mV)', nameLocation:'middle', nameGap:60, nameRotate:90,
    nameTextStyle:{color:'#000', fontSize:14, fontFamily:fontSans}});
  list.forEach(([c, data, w]) => {
    series.push({type:'line', xAxisIndex:i, yAxisIndex:i, data:toPts(data), showSymbol:false, symbol:'none',
      smooth:0.35, smoothMonotone:'x', lineStyle:{color:COL[c], width:w||1.7}, itemStyle:{color:COL[c]},
      silent:true, animation:false, z:2});
  });
  const ml = [];
  VLINES_SOLID.forEach(x=>ml.push({xAxis:x, lineStyle:{type:'solid', width:2, color:'#000'}}));
  VLINES_DASH.forEach(x=>ml.push({xAxis:x, lineStyle:{type:[7,4], width:2, color:'#000'}}));
  series.push({type:'line', xAxisIndex:i, yAxisIndex:i, data:[], silent:true, animation:false, z:5,
    markLine:{silent:true, symbol:['none','none'], label:{show:false}, animation:false, data:ml}});
});
chart.setOption({animation:false, backgroundColor:'#fff', title:titles, grid:grids, xAxis:xAxes, yAxis:yAxes, series:series});
</script>
</body></html>
